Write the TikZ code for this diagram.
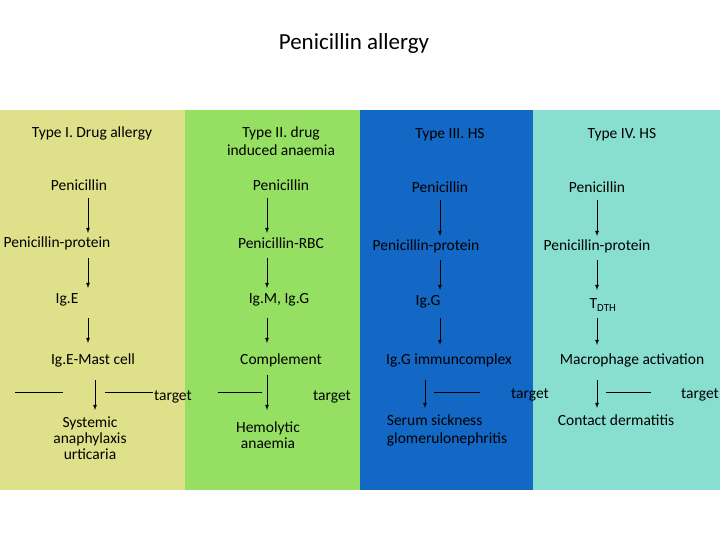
\documentclass[tikz,border=0pt]{standalone}
\usepackage{fontspec}
\setmainfont{Carlito}
\begin{document}
\begin{tikzpicture}[x=1pt,y=-1pt,
  lbl/.style={font=\fontsize{15.5}{18}\selectfont,align=center,inner sep=1pt},
  arr/.style={-latex,line width=0.8pt},
  ln/.style={line width=0.6pt}]
\useasboundingbox (0,0) rectangle (720,540);
\fill[white] (0,0) rectangle (720,540);
\fill[fill={rgb,255:red,223;green,225;blue,138}] (0,110) rectangle (185,490);
\fill[fill={rgb,255:red,149;green,224;blue,98}] (185,110) rectangle (360,490);
\fill[fill={rgb,255:red,18;green,104;blue,196}] (360,110) rectangle (533,490);
\fill[fill={rgb,255:red,136;green,223;blue,208}] (533,110) rectangle (720,490);
\node[font=\fontsize{23}{26}\selectfont] (title) at (354,43) {Penicillin allergy};
% column 1
\node[lbl] (h1) at (92,133) {Type I. Drug allergy};
\node[lbl] (a1) at (79,185) {Penicillin};
\node[lbl] (b1) at (57,243) {Penicillin-protein};
\node[lbl] (c1) at (67,300) {Ig.E};
\node[lbl] (d1) at (93,360) {Ig.E-Mast cell};
\node[lbl] (e1) at (90,438) {Systemic\\[-2pt]anaphylaxis\\[-2pt]urticaria};
\node[lbl] (t1) at (173,397) {target};
% column 2
\node[lbl] (h2) at (281,141) {Type II. drug\\induced anaemia};
\node[lbl] (a2) at (281,185) {Penicillin};
\node[lbl] (b2) at (281,243) {Penicillin-RBC};
\node[lbl] (c2) at (279,300) {Ig.M, Ig.G};
\node[lbl] (d2) at (281,360) {Complement};
\node[lbl] (e2) at (268,435) {Hemolytic\\[-2pt]anaemia};
\node[lbl] (t2) at (332,397) {target};
% column 3
\node[lbl] (h3) at (450,135) {Type III. HS};
\node[lbl] (a3) at (440,187) {Penicillin};
\node[lbl] (b3) at (426,246) {Penicillin-protein};
\node[lbl] (c3) at (428,302) {Ig.G};
\node[lbl] (d3) at (449,360) {Ig.G immuncomplex};
\node[lbl,align=left] (e3) at (447,430) {Serum sickness\\glomerulonephritis};
\node[lbl] (t3) at (530,395) {target};
% column 4
\node[lbl] (h4) at (622,135) {Type IV. HS};
\node[lbl] (a4) at (597,187) {Penicillin};
\node[lbl] (b4) at (597,246) {Penicillin-protein};
\node[lbl] (c4) at (603,305) {T\textsubscript{DTH}};
\node[lbl] (d4) at (632,360) {Macrophage activation};
\node[lbl] (e4) at (616,420) {Contact dermatitis};
\node[lbl] (t4) at (700,395) {target};
% arrows
\draw[arr] (88,198) -- (88,233);
\draw[arr] (88,258) -- (88,288);
\draw[arr] (88,318) -- (88,343);
\draw[arr] (95,380) -- (95,410);
\draw[arr] (267,198) -- (267,233);
\draw[arr] (267,258) -- (267,288);
\draw[arr] (267,318) -- (267,343);
\draw[arr] (267,375) -- (267,410);
\draw[arr] (440,200) -- (440,236);
\draw[arr] (440,260) -- (440,290);
\draw[arr] (440,318) -- (440,345);
\draw[arr] (425,380) -- (425,408);
\draw[arr] (597,200) -- (597,236);
\draw[arr] (597,260) -- (597,290);
\draw[arr] (597,318) -- (597,345);
\draw[arr] (597,380) -- (597,408);
% lines
\draw[ln] (15,392) -- (63,392);
\draw[ln] (105,392) -- (153,392);
\draw[ln] (218,392) -- (262,392);
\draw[ln] (434,392) -- (480,392);
\draw[ln] (606,392) -- (651,392);
\end{tikzpicture}
\end{document}
